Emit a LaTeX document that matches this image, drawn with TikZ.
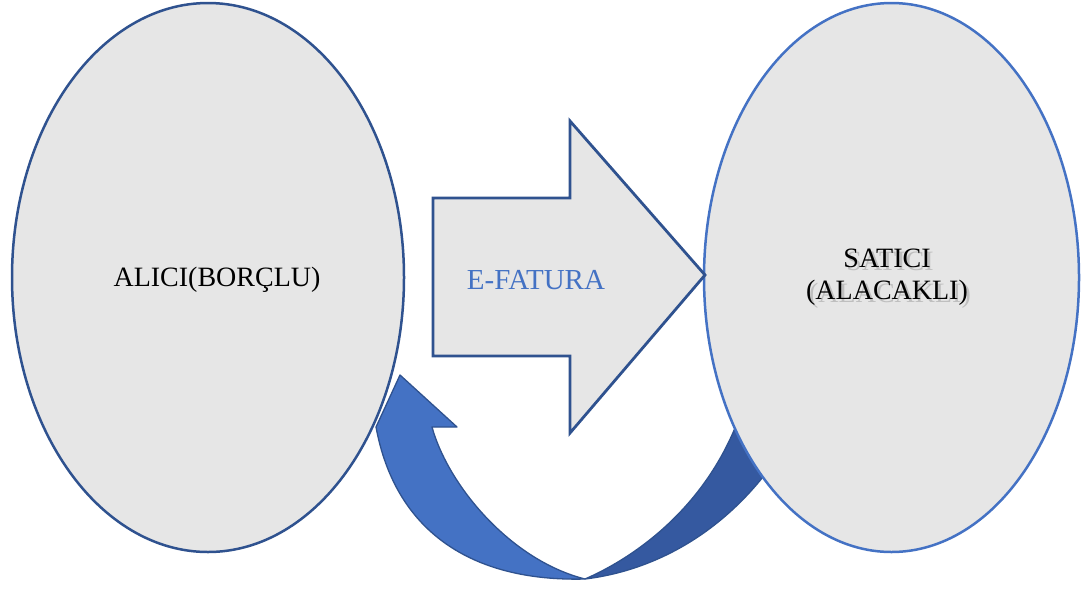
\documentclass[tikz,border=0pt]{standalone}
\usepackage{fontspec}
\setmainfont{Liberation Serif}
\usetikzlibrary{shapes.geometric}
\definecolor{grayfill}{HTML}{E6E6E6}
\definecolor{darkborder}{HTML}{2F528F}
\definecolor{lightborder}{HTML}{4472C4}
\definecolor{frontblue}{HTML}{4472C4}
\definecolor{backblue}{HTML}{3559A0}
\tikzset{
  oval/.style={ellipse, fill=grayfill, line width=2.5pt, inner sep=0pt, minimum width=#1},
  lbl/.style={font=\fontsize{28}{32}\selectfont, text=black, inner sep=0pt, align=center},
  shadowtxt/.style={font=\fontsize{28}{32}\selectfont, text=black!40, opacity=0.5, inner sep=0pt, align=center},
  band/.style={draw=darkborder, line width=1.3pt, line join=round}
}
\begin{document}
\begin{tikzpicture}[x=1pt,y=-1pt]
\useasboundingbox (0,0) rectangle (1086,590);
% back (dark) part of curved arrow, partly hidden by the right ellipse
\path[band, fill=backblue] (585,579) .. controls (660,570) and (745,525) .. (800,420)
  -- (745,400) .. controls (715,500) and (640,555) .. (585,579) -- cycle;
% ellipses
\node[oval=392pt, draw=darkborder, minimum height=549pt] (alici) at (208,277.5) {};
\node[oval=375pt, draw=lightborder, minimum height=549pt] (satici) at (891.5,277.5) {};
% big arrow
\path[draw=darkborder, fill=grayfill, line width=2.8pt, line join=miter]
  (433,198) -- (570,198) -- (570,121) -- (705,275) -- (570,433) -- (570,356) -- (433,356) -- cycle;
% front (light) part of curved arrow
\path[band, fill=frontblue] (400,375) -- (457,427) -- (432,427)
  .. controls (448,485) and (510,560) .. (585,579)
  .. controls (470,582) and (395,530) .. (376,427) -- cycle;
% labels
\node[lbl] (t1) at (217,280) {ALICI(BORÇLU)};
\node[font=\fontsize{29}{32}\selectfont, text=lightborder, inner sep=0pt] (t2) at (536,280) {E-FATURA};
\node[shadowtxt] (t3s) at (890,280) {SATICI\\(ALACAKLI)};
\node[lbl] (t3) at (887,277) {SATICI\\(ALACAKLI)};
\end{tikzpicture}
\end{document}
